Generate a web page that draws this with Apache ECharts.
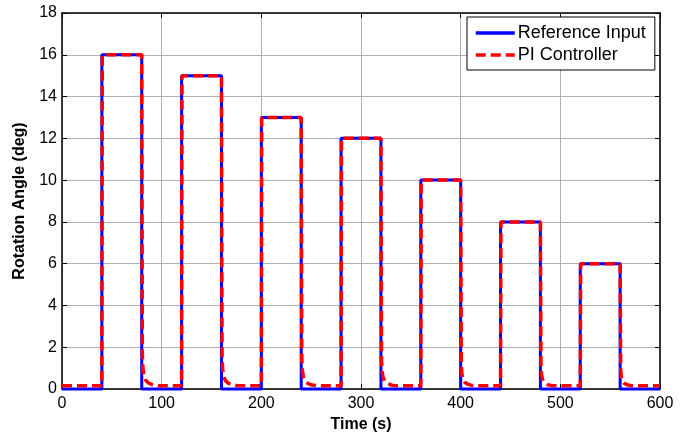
<!DOCTYPE html>
<html>
<head>
<meta charset="utf-8">
<script src="https://cdn.jsdelivr.net/npm/echarts@6/dist/echarts.min.js"></script>
<style>html,body{margin:0;padding:0;background:#fff}#c{width:697px;height:439px}</style>
</head>
<body>
<div id="c"></div>
<script>
// Step reference: [time (s), angle (deg)]
const referenceInput = [
  [0, 0], [40, 0], [40, 16], [80, 16], [80, 0],
  [120, 0], [120, 15], [160, 15], [160, 0],
  [200, 0], [200, 13], [240, 13], [240, 0],
  [280, 0], [280, 12], [320, 12], [320, 0],
  [360, 0], [360, 10], [400, 10], [400, 0],
  [440, 0], [440, 8], [480, 8], [480, 0],
  [520, 0], [520, 6], [560, 6], [560, 0],
  [600, 0]
];

// Closed-loop response of the PI controller
const piController = [
  [0, 0.15], [40, 0.15], [40.4, 16], [80, 16],
  [80.6, 1.7], [81.2, 1.0], [82.2, 0.65], [84, 0.42], [87, 0.28], [91, 0.2], [97, 0.15],
  [120, 0.15], [120.4, 15], [160, 15],
  [160.6, 1.6], [161.2, 0.95], [162.2, 0.62], [164, 0.4], [167, 0.27], [171, 0.2], [177, 0.15],
  [200, 0.15], [200.4, 13], [240, 13],
  [240.6, 1.45], [241.2, 0.88], [242.2, 0.58], [244, 0.38], [247, 0.26], [251, 0.19], [257, 0.15],
  [280, 0.15], [280.4, 12], [320, 12],
  [320.6, 1.35], [321.2, 0.82], [322.2, 0.55], [324, 0.36], [327, 0.25], [331, 0.18], [337, 0.15],
  [360, 0.15], [360.4, 10], [400, 10],
  [400.6, 1.2], [401.2, 0.74], [402.2, 0.5], [404, 0.33], [407, 0.23], [411, 0.17], [417, 0.15],
  [440, 0.15], [440.4, 8], [480, 8],
  [480.6, 1.05], [481.2, 0.66], [482.2, 0.45], [484, 0.3], [487, 0.21], [491, 0.17], [497, 0.15],
  [520, 0.15], [520.4, 6], [560, 6],
  [560.6, 0.9], [561.2, 0.58], [562.2, 0.4], [564, 0.28], [567, 0.2], [571, 0.16], [577, 0.15],
  [600, 0.15]
];

const xTicks = [0, 100, 200, 300, 400, 500, 600];
const yTicks = [0, 2, 4, 6, 8, 10, 12, 14, 16, 18];

const font = 'Liberation Sans, Arial, sans-serif';
const chart = echarts.init(document.getElementById('c'), null, { renderer: 'canvas' });

const tickStyle = { show: true, inside: true, length: 5, lineStyle: { color: '#000', width: 1 } };
const axisLine = { show: true, onZero: false, lineStyle: { color: '#000', width: 1.5 } };
const gridLine = { show: true, lineStyle: { color: '#b0b0b0', width: 1 } };

chart.setOption({
  animation: false,
  backgroundColor: '#fff',
  grid: { left: 62, right: 37, top: 13, bottom: 50, containLabel: false },
  legend: {
    left: 467, top: 17,
    orient: 'vertical',
    itemWidth: 39, itemHeight: 14, itemGap: 4,
    padding: [7, 9, 6, 7],
    backgroundColor: '#fff',
    borderColor: '#000', borderWidth: 1,
    // line-only legend keys: hide the marker drawn at the middle of each key
    itemStyle: { opacity: 0, borderWidth: 0 },
    lineStyle: { width: 3.5 },
    textStyle: { fontFamily: font, fontSize: 18, color: '#000', padding: [0, 0, 0, -2] },
    data: ['Reference Input', 'PI Controller']
  },
  xAxis: [{
    type: 'value', min: xTicks[0], max: xTicks[xTicks.length - 1], interval: 100,
    name: 'Time (s)', nameLocation: 'middle', nameGap: 27,
    nameTextStyle: { fontFamily: font, fontSize: 16, fontWeight: 'bold', color: '#000' },
    axisLine, axisTick: tickStyle, splitLine: gridLine,
    axisLabel: { fontFamily: font, fontSize: 16, color: '#000', margin: 7 }
  }, {
    type: 'value', position: 'top', min: 0, max: 600, interval: 100,
    axisLine, axisTick: tickStyle, splitLine: { show: false }, axisLabel: { show: false }
  }],
  yAxis: [{
    type: 'value', min: yTicks[0], max: yTicks[yTicks.length - 1], interval: 2,
    name: 'Rotation Angle (deg)', nameLocation: 'middle', nameGap: 34,
    nameTextStyle: { fontFamily: font, fontSize: 16, fontWeight: 'bold', color: '#000' },
    axisLine, axisTick: tickStyle, splitLine: gridLine,
    axisLabel: { fontFamily: font, fontSize: 16, color: '#000', margin: 5 }
  }, {
    type: 'value', position: 'right', min: 0, max: 18, interval: 2,
    axisLine, axisTick: tickStyle, splitLine: { show: false }, axisLabel: { show: false }
  }],
  series: [{
    name: 'Reference Input', type: 'line', data: referenceInput,
    symbol: 'none', clip: false,
    lineStyle: { color: '#0000ff', width: 3 }, itemStyle: { color: '#0000ff' }
  }, {
    name: 'PI Controller', type: 'line', data: piController,
    symbol: 'none', clip: false,
    lineStyle: { color: '#ff0000', width: 3.5, type: [10, 5] }, itemStyle: { color: '#ff0000' }
  }]
});
</script>
</body>
</html>
